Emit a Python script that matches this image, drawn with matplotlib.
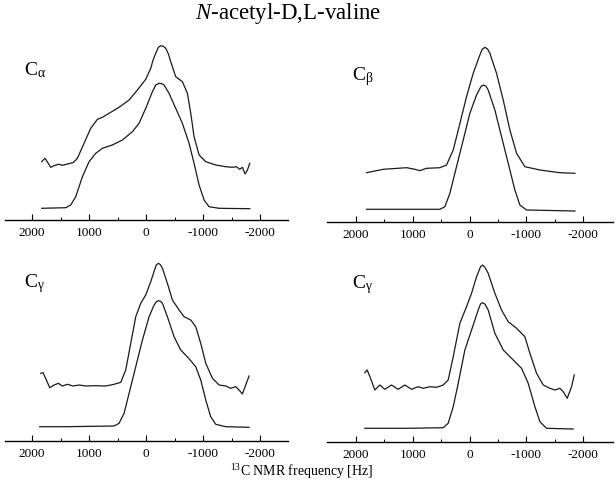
import matplotlib
matplotlib.use("Agg")
import matplotlib.pyplot as plt
from matplotlib.ticker import FixedLocator

plt.rcParams['font.family'] = ['Liberation Serif', 'DejaVu Serif']
plt.rcParams['mathtext.fontset'] = 'custom'
plt.rcParams['mathtext.rm'] = 'Liberation Serif'
plt.rcParams['mathtext.it'] = 'Liberation Serif:italic'

title_main = "-acetyl-D,L-valine"
xlabel_text = "C NMR frequency [Hz]"
tick_values = [2000, 1000, 0, -1000, -2000]
tick_labels = ["2000", "1000", "0", "-1000", "-2000"]
panel_subs = ["\u03b1", "\u03b2", "\u03b3", "\u03b3"]

# ---- C alpha (top-left) ----
ca_exp_hz = [1831, 1772, 1673, 1585, 1526, 1468, 1380, 1281, 1205, 1088, 971, 854, 766, 649,
             474, 298, 152, 6, -82, -123, -170, -216, -257, -304, -345, -392, -433, -520, -637,
             -725, -784, -842, -930, -1047, -1222, -1398, -1515, -1585, -1643, -1690, -1737,
             -1778, -1819]
ca_exp_i = [58.3, 61.7, 52.7, 55, 55.7, 54.7, 56, 57.3, 61.7, 76.7, 91.7, 100.7, 102.7, 106.7,
            112.7, 120, 130, 140.7, 151.7, 160, 166.7, 172.7, 174.3, 173.7, 171.7, 166, 158.3,
            143.3, 138.3, 126.7, 106.7, 83.3, 65, 58.3, 55, 53.3, 52.7, 53.3, 50.7, 52.7, 46,
            50, 56.7]
ca_sim_hz = [1831, 1409, 1322, 1234, 1117, 1000, 883, 766, 591, 415, 240, 123, 6, -111, -170,
             -228, -275, -316, -403, -520, -637, -754, -842, -930, -1018, -1105, -1281, -1819]
ca_sim_i = [11.7, 12.3, 15, 23.3, 43.3, 58.3, 66.7, 71.7, 75, 80, 88.3, 96.7, 111.7, 128.3,
            135, 136.7, 136.3, 135, 126.7, 111.7, 96.7, 76.7, 56.7, 35, 20, 13.3, 11.7, 11.3]

# ---- C beta (top-right) ----
cb_exp_hz = [1815, 1521, 1110, 963, 875, 757, 522, 405, 287, 169, 53, -65, -182, -224, -271,
             -318, -359, -476, -594, -711, -829, -975, -1240, -1592, -1857]
cb_exp_i = [49.3, 52.7, 54.3, 52.7, 51.3, 53.7, 54.3, 57, 72, 98.7, 125.3, 148.7, 167, 172.7,
            174.7, 173, 168.7, 148.7, 122, 92, 68.7, 55.3, 52, 49.3, 48.7]
cb_sim_hz = [1815, 1110, 522, 434, 346, 229, 111, -6, -124, -200, -241, -288, -329, -447, -564,
             -682, -799, -887, -1005, -1857]
cb_sim_i = [12.7, 12.7, 12.7, 15.3, 28.7, 55.3, 82, 108.7, 127, 135.3, 137, 136, 132, 112,
            85.3, 58.7, 32, 17, 12, 11]

# ---- C gamma (bottom-left) ----
cg1_exp_hz = [1848, 1807, 1749, 1690, 1614, 1538, 1468, 1380, 1281, 1175, 1059, 883, 708, 561,
              444, 357, 269, 181, 94, 6, -82, -158, -181, -216, -251, -287, -374, -462, -579,
              -667, -784, -871, -959, -1047, -1164, -1281, -1398, -1485, -1573, -1631, -1690,
              -1748, -1807]
cg1_exp_i = [67.7, 68.3, 61, 53.3, 56, 57.7, 55, 56.7, 55, 56, 55, 55.3, 55, 56.7, 58.7, 71,
             97.7, 124.3, 137.7, 146, 159.3, 172.7, 176, 177.7, 176.3, 172.7, 157.7, 141, 131,
             124.3, 121, 114.3, 97.7, 77.7, 62.7, 56, 55, 52.7, 54.3, 51, 47, 56, 65]
cg1_sim_hz = [1866, 1409, 561, 474, 386, 298, 181, 64, -53, -140, -181, -216, -251, -287, -374,
              -491, -608, -754, -871, -959, -1047, -1134, -1222, -1398, -1807]
cg1_sim_i = [14.3, 14.3, 15, 17.7, 27.7, 47.7, 74.3, 101, 124.3, 136, 139.3, 140.3, 139.7,
             137.7, 124.3, 104.3, 91, 82.3, 74.3, 61, 41, 24.3, 16.7, 14.3, 13.7]

# ---- C gamma (bottom-right) ----
cg2_exp_hz = [1844, 1803, 1744, 1668, 1580, 1492, 1374, 1257, 1139, 1022, 904, 816, 699, 581,
              464, 376, 287, 170, 53, -36, -124, -194, -230, -271, -329, -447, -564, -682, -829,
              -975, -1064, -1181, -1299, -1416, -1504, -1592, -1651, -1721, -1798, -1845]
cg2_exp_i = [69.3, 72, 63.7, 52, 57, 52.7, 57, 52.7, 57, 52.7, 55.3, 53.7, 55.3, 54.7, 57, 62,
             85.3, 118.7, 135.3, 148.7, 165.3, 175.3, 177, 174.7, 168.7, 148.7, 132, 120.3,
             113.7, 105.3, 88.7, 68.7, 57, 53.7, 52, 53.7, 50.3, 43.7, 55.3, 67]
cg2_sim_hz = [1844, 1110, 464, 376, 287, 199, 82, -36, -153, -194, -230, -271, -329, -447, -594,
              -770, -917, -1034, -1152, -1240, -1357, -1827]
cg2_sim_i = [13.7, 13.7, 14.3, 18.7, 35.3, 58.7, 92, 112, 132, 138, 139.3, 138, 132, 108.7, 92,
             82, 73.7, 58.7, 35.3, 20.3, 13.7, 13]

W, H = 616, 488
fig = plt.figure(figsize=(W / 100, H / 100), dpi=100)

def px_rect(x0, x1, ytop, ybot):
    return [x0 / W, 1 - ybot / H, (x1 - x0) / W, (ybot - ytop) / H]

panels = [
    (px_rect(5, 288, 30, 220), (2475, -2490), 190, ca_exp_hz, ca_exp_i, ca_sim_hz, ca_sim_i),
    (px_rect(327, 613, 30, 222), (2511, -2528), 192, cb_exp_hz, cb_exp_i, cb_sim_hz, cb_sim_i),
    (px_rect(5, 288, 250, 441), (2475, -2490), 191, cg1_exp_hz, cg1_exp_i, cg1_sim_hz, cg1_sim_i),
    (px_rect(327, 613, 250, 442), (2511, -2528), 192, cg2_exp_hz, cg2_exp_i, cg2_sim_hz, cg2_sim_i),
]

for rect, xl, ytop, ehz, ei, shz, si in panels:
    ax = fig.add_axes(rect)
    ax.plot(ehz, ei, color='#1a1a1a', lw=0.9, solid_joinstyle='round', antialiased=True)
    ax.plot(shz, si, color='#1a1a1a', lw=0.9, solid_joinstyle='round', antialiased=True)
    ax.set_xlim(*xl)
    ax.set_ylim(0, ytop)
    for s in ('top', 'right', 'left'):
        ax.spines[s].set_visible(False)
    ax.spines['bottom'].set_linewidth(1.0)
    ax.set_yticks([])
    ax.xaxis.set_major_locator(FixedLocator(tick_values))
    ax.set_xticklabels(tick_labels)
    ax.xaxis.set_minor_locator(FixedLocator([1500, 500, -500, -1500]))
    ax.tick_params(axis='x', which='major', direction='in', length=4, width=0.8,
                   labelsize=9.5, pad=5)
    ax.tick_params(axis='x', which='minor', direction='in', length=2.5, width=0.7)
    ax.patch.set_alpha(0)

label_pos = [(24, 75), (352, 80), (24, 287), (352, 288)]
for (lx, ly), sub in zip(label_pos, panel_subs):
    fig.text(lx / W, 1 - ly / H, r"$\mathrm{C}_{\mathrm{" + sub + "}}$", fontsize=14,
             ha='left', va='baseline')

# title
fig.text(288 / W, 1 - 19 / H, r"$\mathit{N}$" + title_main, fontsize=16.5,
         ha='center', va='baseline')
# x label
fig.text(302 / W, 1 - 476 / H, r"$^{13}$" + xlabel_text, fontsize=10,
         ha='center', va='baseline')

fig.savefig("out.png", dpi=100)
